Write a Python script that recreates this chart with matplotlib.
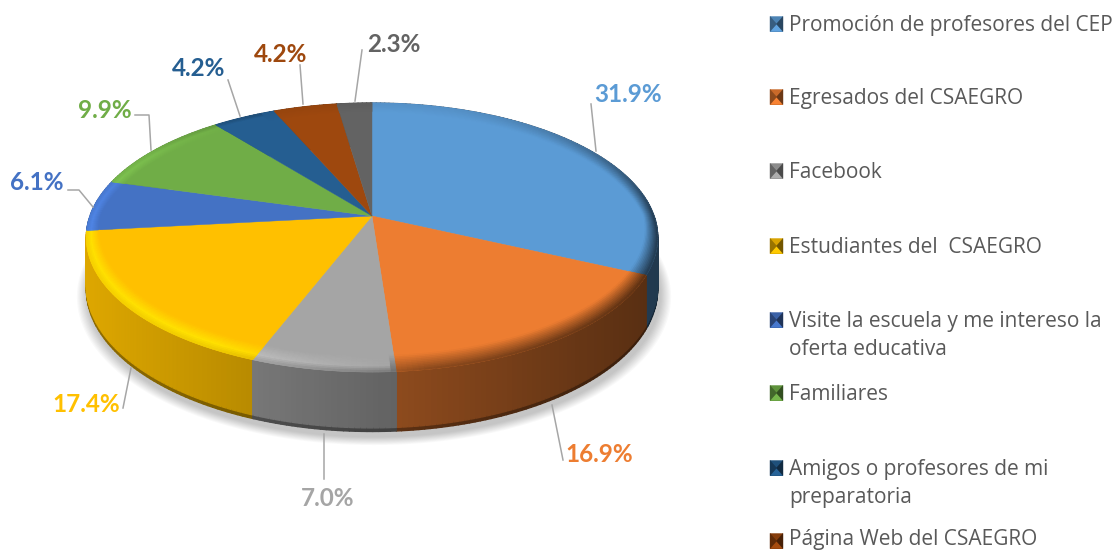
import numpy as np
from matplotlib import pyplot as plt
from matplotlib.collections import PolyCollection

# Chart data
values = [31.9, 16.9, 7.0, 17.4, 6.1, 9.9, 4.2, 4.2, 2.3]
value_labels = ["31.9%", "16.9%", "7.0%", "17.4%", "6.1%", "9.9%", "4.2%", "4.2%", "2.3%"]
slice_colors = ["#5B9BD5", "#ED7D31", "#A5A5A5", "#FFC000", "#4472C4", "#70AD47", "#255E91", "#9E480E", "#636363"]
legend_labels = ["Promoción de profesores del CEP", "Egresados del CSAEGRO", "Facebook",
                 "Estudiantes del  CSAEGRO", "Visite la escuela y me intereso la\noferta educativa",
                 "Familiares", "Amigos o profesores de mi\npreparatoria", "Página Web del CSAEGRO"]

# Layout (pixels of the 1112x550 picture)
label_pos = [(628, 94), (599, 455), (328, 499), (86, 404), (37, 182), (105, 110), (199, 69), (281, 54), (394, 44)]
leader_lines = [[(591, 104), (596, 151)], [(563, 460), (552, 405)], [(324, 479), (324, 434)],
                [(123, 408), (131, 368)], [(68, 190), (79, 190), (93, 207)],
                [(135, 115), (149, 115), (151, 150)], [(228, 80), (240, 116)],
                [(300, 65), (303, 104)], [(362, 50), (355, 101)]]
legend_y = [24, 97, 171, 246, 320, 393, 468, 541]
legend_text_y = [25.5, 98.5, 172.5, 247.5, 321.5, 394.5, 469.5, 539.5]
legend_y_second = {4: 349.5, 6: 497.5}

cx, cy = 372, 216
rx, ry = 282, 131
tilt = 0.16
step = 1.0


def project(theta, r=1.0, depth=0.0):
    """Circle point (degrees clockwise from top) to picture pixels, with perspective"""
    t = np.radians(theta)
    u, v = r * np.sin(t), r * np.cos(t)
    w = 1 + tilt * v
    return cx + rx * u / w, cy - ry * v / w + depth / w


def wall_factor(x):
    return np.clip(0.87 - 0.49 * (x - 86) / 554, 0.35, 0.9)


def rgb(color):
    return np.array([int(color[i:i + 2], 16) / 255 for i in (1, 3, 5)])


def bevel_color(base, theta, ring):
    """Colour of the rounded rim, ring goes from 0 (inner) to 1 (edge)"""
    x, _ = project(theta)
    dark = base * wall_factor(x)
    light = np.clip(base * 1.17, 0, 1)
    s = np.cos(np.radians(theta - 255)) - 0.2
    back = np.clip(1 - 0.9 * np.cos(np.radians(theta)), 0.15, 1)
    if s > 0:
        s = min(1, s * 2)
        if ring < 0.65:
            return base + (light - base) * s * back * ring / 0.65
        top = base + (light - base) * s * back
        return top + (dark - top) * ((ring - 0.65) / 0.35) * 0.7 * (1 - s * 0.6)
    return base + (dark - base) * ring * min(1, -s * 2 + 0.8) * back


fig = plt.figure(figsize=(11.12, 5.5), dpi=100)
ax = fig.add_axes([0, 0, 1, 1])
ax.set_xlim(0, 1112)
ax.set_ylim(550, 0)
ax.axis("off")

edges = np.cumsum([0] + values) / sum(values) * 360
angles = np.arange(0, 360 + step, step)

# soft shadow under the pie
for i in range(10):
    grow = 1 + 0.004 * (10 - i)
    sx, sy = project(angles, 1.0, 50)
    ax.fill(cx + 2 + (sx - cx) * grow, cy + 5 + (sy - cy) * grow, color="#000000", alpha=0.025, lw=0, zorder=1)

# outer wall, split in thin strips so the shading follows x, back strips first
wall_strips = []
for i in range(len(values)):
    base = rgb(slice_colors[i])
    a = edges[i]
    while a < edges[i + 1]:
        b = min(a + step, edges[i + 1])
        x0, y0 = project(a)
        x1, y1 = project(b)
        x2, y2 = project(b, 1.0, 50)
        x3, y3 = project(a, 1.0, 50)
        x4, y4 = project(b, 1.0, 47)
        x5, y5 = project(a, 1.0, 47)
        f = wall_factor((x0 + x1) / 2)
        wall_strips.append((np.cos(np.radians(a)), [(x5, y5), (x4, y4), (x2, y2), (x3, y3)], base * f * 0.65))
        wall_strips.append((np.cos(np.radians(a)), [(x0, y0), (x1, y1), (x4, y4), (x5, y5)], base * f))
        a = b
wall_strips.sort(key=lambda strip: -strip[0])
wall_quads = [strip[1] for strip in wall_strips]
wall_colors = [strip[2] for strip in wall_strips]
ax.add_collection(PolyCollection(wall_quads, facecolors=wall_colors, edgecolors=wall_colors, linewidths=1.0, zorder=2))

# flat top of each slice
for i, color in enumerate(slice_colors):
    a = np.arange(edges[i], edges[i + 1], step)
    a = np.append(a, edges[i + 1])
    x, y = project(a)
    ax.fill(np.append(cx, x), np.append(cy, y), color=color, lw=0.3, zorder=3)

# rounded rim on top of the slices
rim_quads, rim_colors = [], []
rings = np.linspace(0, 1, 11)
for i, color in enumerate(slice_colors):
    base = rgb(color)
    a = edges[i]
    while a < edges[i + 1]:
        b = min(a + step, edges[i + 1])
        mid = (a + b) / 2
        width = 0.09 * (0.4 + 0.6 * abs(np.cos(np.radians(mid))))
        for r0, r1 in zip(rings[:-1], rings[1:]):
            ra, rb = 1 - width * (1 - r0), 1 - width * (1 - r1)
            rim_quads.append([project(a, ra), project(b, ra), project(b, rb), project(a, rb)])
            rim_colors.append(np.clip(bevel_color(base, mid, (r0 + r1) / 2), 0, 1))
        a = b
ax.add_collection(PolyCollection(rim_quads, facecolors=rim_colors, edgecolors=rim_colors, linewidths=0.5, zorder=4))

# leader lines and value labels
for line in leader_lines:
    ax.plot([p[0] for p in line], [p[1] for p in line], color="#A6A6A6", lw=1.1, zorder=5)
for text, pos, color in zip(value_labels, label_pos, slice_colors):
    ax.text(pos[0], pos[1], text, color=color, fontsize=17.5, fontweight="bold", family="Lato",
            ha="center", va="center", zorder=6)

# legend
for i, label in enumerate(legend_labels):
    y = legend_y[i]
    base = rgb(slice_colors[i])
    x0, x1, y0, y1 = 770, 783, y - 7.5, y + 7.5
    xm, ym = (x0 + x1) / 2, (y0 + y1) / 2
    ax.fill([x0, x1, x1, x0], [y0, y0, y1, y1], color=base * 0.7, lw=0, zorder=5)
    ax.fill([x0, x1, xm], [y0, y0, ym], color=base * 0.85, lw=0.3, zorder=5)
    ax.fill([x0, x1, xm], [y1, y1, ym], color=np.clip(base * 1.05, 0, 1), lw=0.3, zorder=5)
    ax.fill([x0, x0, xm], [y0, y1, ym], color=base * 0.6, lw=0.3, zorder=5)
    ax.fill([x1, x1, xm], [y0, y1, ym], color=base * 0.45, lw=0.3, zorder=5)
    parts = label.split("\n")
    ax.text(789, legend_text_y[i], parts[0], color="#595959", fontsize=15, family="Open Sans", va="center", zorder=6)
    if len(parts) > 1:
        ax.text(789, legend_y_second[i], parts[1], color="#595959", fontsize=15, family="Open Sans",
                va="center", zorder=6)

plt.savefig("out.png", dpi=100)
